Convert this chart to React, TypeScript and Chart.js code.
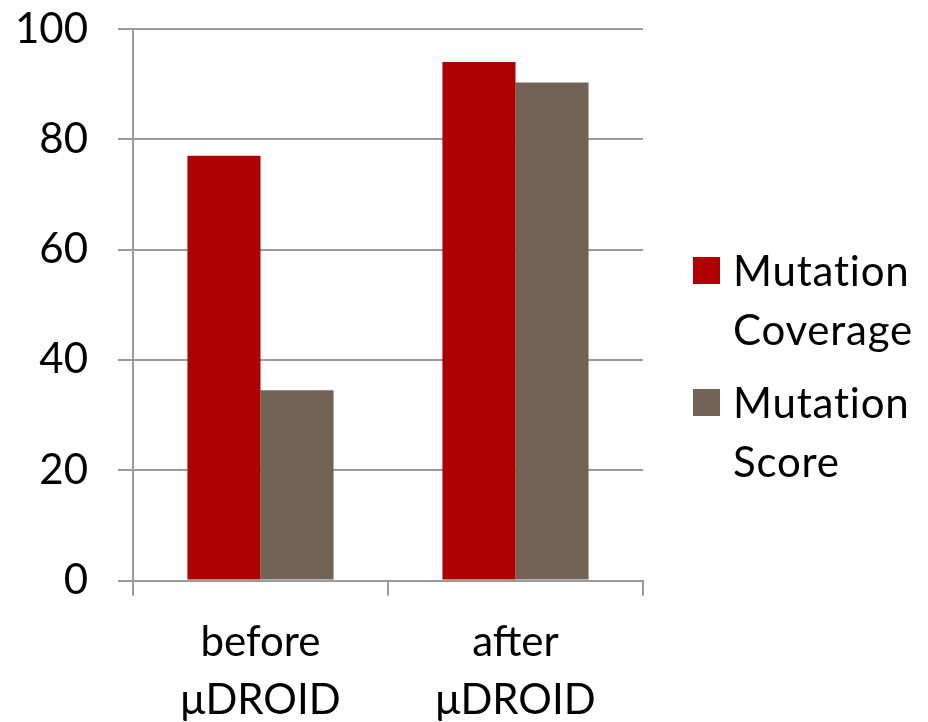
import React, { useEffect, useRef } from "react";
import { Chart, registerables } from "chart.js";

Chart.register(...registerables);

const categories: string[][] = [["before", "μDROID"], ["after", "μDROID"]];
const coverage: number[] = [77, 94];
const score: number[] = [34.5, 90.3];
const seriesNames: string[][] = [["Mutation", "Coverage"], ["Mutation", "Score"]];
const yTicks: number[] = [0, 20, 40, 60, 80, 100];

const RED = "#AE0000";
const BROWN = "#736357";
const GRID = "#9A9A9A";
const FONT = "Lato, 'Open Sans', sans-serif";
const FONT_SIZE = 42;

// Two-line legend drawn to the right of the plot
const sideLegend = {
  id: "sideLegend",
  afterDraw(chart: any) {
    const ctx = chart.ctx;
    const colors = [RED, BROWN];
    ctx.save();
    ctx.font = `${FONT_SIZE}px ${FONT}`;
    ctx.letterSpacing = "0.8px";
    ctx.textBaseline = "alphabetic";
    ctx.textAlign = "left";
    const x0 = chart.chartArea.right + 50;
    let top = 257;
    seriesNames.forEach((lines, i) => {
      ctx.fillStyle = colors[i];
      ctx.fillRect(x0, top, 27, 27);
      ctx.fillStyle = "#000";
      lines.forEach((ln, j) => {
        ctx.fillText(ln, x0 + 40, top + 29 + j * 59);
      });
      top += 132;
    });
    ctx.restore();
  },
};

export default function App() {
  const ref = useRef<HTMLCanvasElement>(null);
  useEffect(() => {
    if (!ref.current) return;
    const chart = new Chart(ref.current, {
      type: "bar",
      data: {
        labels: categories,
        datasets: [
          {
            label: seriesNames[0].join(" "),
            data: coverage,
            backgroundColor: RED,
            barPercentage: 1,
            categoryPercentage: 0.573,
          },
          {
            label: seriesNames[1].join(" "),
            data: score,
            backgroundColor: BROWN,
            barPercentage: 1,
            categoryPercentage: 0.573,
          },
        ],
      },
      options: {
        responsive: false,
        animation: false,
        layout: { padding: { left: 0, top: 29, right: 285, bottom: 0 } },
        plugins: {
          legend: { display: false },
          tooltip: { enabled: false },
        },
        scales: {
          x: {
            afterFit: (s: any) => {
              s.height = 141.5;
            },
            grid: {
              offset: true,
              drawOnChartArea: false,
              tickLength: 15,
              color: GRID,
              lineWidth: 2,
            },
            border: { color: GRID, width: 2 },
            ticks: {
              color: "#000",
              padding: 18,
              font: { family: FONT, size: FONT_SIZE, lineHeight: 1.38 },
              maxRotation: 0,
            },
          },
          y: {
            min: 0,
            max: 100,
            afterFit: (s: any) => {
              s.width = 133;
              s.paddingTop = 0;
              s.paddingBottom = 0;
            },
            afterBuildTicks: (s: any) => {
              s.ticks = yTicks.map((v) => ({ value: v }));
            },
            grid: {
              tickLength: 15,
              color: GRID,
              lineWidth: 2,
            },
            border: { color: GRID, width: 2 },
            ticks: {
              color: "#000",
              padding: 30,
              font: { family: FONT, size: FONT_SIZE },
            },
          },
        },
      },
      plugins: [sideLegend],
    });
    return () => chart.destroy();
  }, []);
  return (
    <div style={{ position: "fixed", left: 0, top: 0, width: 928, height: 722, background: "#fff" }}>
      <canvas ref={ref} width={928} height={722} />
    </div>
  );
}
